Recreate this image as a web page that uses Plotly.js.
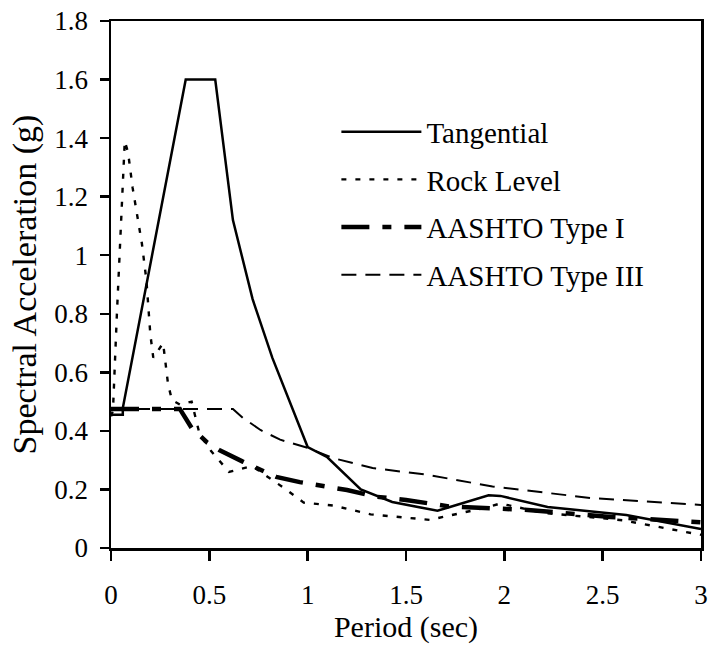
<!DOCTYPE html>
<html>
<head>
<meta charset="utf-8">
<script src="https://cdn.plot.ly/plotly-3.0.1.min.js"></script>
<style>html,body{margin:0;padding:0;background:#fff;}#chart{width:719px;height:645px;}</style>
</head>
<body>
<div id="chart"></div>
<script>
// Period (sec) and spectral acceleration (g)
const tangentialX = [0, 0.06, 0.06, 0.38, 0.53, 0.62, 0.72, 0.82, 1.0, 1.1, 1.27, 1.43, 1.66, 1.92, 1.98, 2.22, 2.62, 3.0];
const tangentialY = [0.455, 0.455, 0.478, 1.6, 1.6, 1.12, 0.85, 0.65, 0.345, 0.31, 0.2, 0.157, 0.127, 0.18, 0.178, 0.14, 0.113, 0.065];

const rockX = [0, 0.01, 0.03, 0.055, 0.07, 0.087, 0.11, 0.157, 0.18, 0.2, 0.215, 0.265, 0.29, 0.31, 0.35, 0.41, 0.45, 0.51, 0.6, 0.72, 0.77, 0.88, 0.98, 1.13, 1.32, 1.62, 1.9, 1.98, 2.2, 2.6, 3.0];
const rockY = [0.45, 0.47, 0.8, 1.2, 1.39, 1.35, 1.23, 1.04, 0.915, 0.73, 0.65, 0.70, 0.56, 0.505, 0.49, 0.50, 0.39, 0.33, 0.26, 0.28, 0.255, 0.205, 0.155, 0.145, 0.115, 0.096, 0.137, 0.152, 0.12, 0.095, 0.045];

const type1X = [0, 0.35, 0.41, 0.49, 0.55, 0.67, 0.84, 0.96, 1.2, 1.35, 1.5, 1.72, 2.12, 2.54, 3.0];
const type1Y = [0.475, 0.475, 0.41, 0.36, 0.335, 0.295, 0.243, 0.225, 0.198, 0.175, 0.164, 0.142, 0.13, 0.106, 0.088];

const type3X = [0, 0.62, 0.67, 0.76, 0.86, 1.0, 1.13, 1.33, 1.61, 1.94, 2.45, 3.0];
const type3Y = [0.475, 0.475, 0.445, 0.403, 0.37, 0.342, 0.307, 0.273, 0.25, 0.21, 0.17, 0.147];

const seriesNames = ["Tangential", "Rock Level", "AASHTO Type I", "AASHTO Type III"];
const xTitle = "Period (sec)";
const yTitle = "Spectral Acceleration (g)";

const FONT = "Liberation Serif";

const traces = [
  {x: tangentialX, y: tangentialY, name: seriesNames[0], legendgroup: "a",
   mode: "lines", line: {color: "#000", width: 2.5}},
  {x: rockX, y: rockY, name: seriesNames[1], legendgroup: "b",
   mode: "lines", line: {color: "#000", width: 2.4, dash: "5px,9px"}},
  {x: type1X, y: type1Y, name: seriesNames[2], legendgroup: "c",
   mode: "lines", line: {color: "#000", width: 4.5, dash: "28px,13px,9px,13px"}},
  {x: type3X, y: type3Y, name: seriesNames[3], legendgroup: "d",
   mode: "lines", line: {color: "#000", width: 2, dash: "15px,9px"}}
].map(t => Object.assign(t, {cliponaxis: false}));

const layout = {
  width: 719, height: 645,
  margin: {l: 111, r: 18, t: 21, b: 97},
  paper_bgcolor: "#fff", plot_bgcolor: "#fff",
  font: {family: FONT, color: "#000", size: 27},
  showlegend: true,
  legend: {
    x: 0.382, xanchor: "left", y: 0.838, yanchor: "top",
    font: {family: FONT, size: 29, color: "#000"},
    bgcolor: "rgba(0,0,0,0)", itemwidth: 80,
    traceorder: "grouped", tracegroupgap: 7
  },
  xaxis: {
    range: [0, 3], dtick: 0.5, tick0: 0,
    showgrid: false, zeroline: false,
    showline: true, mirror: true, linecolor: "#000", linewidth: 2.5,
    ticks: "outside", ticklen: 10, tickwidth: 2.5, tickcolor: "#000",
    ticklabelstandoff: 11,
    tickfont: {family: FONT, size: 27},
    title: {text: xTitle, font: {family: FONT, size: 30}, standoff: 1}
  },
  yaxis: {
    range: [0, 1.8], dtick: 0.2, tick0: 0,
    showgrid: false, zeroline: false,
    showline: true, mirror: true, linecolor: "#000", linewidth: 2.5,
    ticks: "outside", ticklen: 9, tickwidth: 2.5, tickcolor: "#000",
    ticklabelstandoff: 6,
    tickfont: {family: FONT, size: 27},
    title: {text: yTitle, font: {family: FONT, size: 34}, standoff: 8}
  },
  xaxis2: {
    overlaying: "x", anchor: "y", side: "bottom",
    range: [0, 3], dtick: 0.5, tick0: 0,
    showgrid: false, zeroline: false, showline: false,
    ticks: "inside", ticklen: 10, tickwidth: 2.5, tickcolor: "#000",
    showticklabels: false
  },
  yaxis2: {
    overlaying: "y", anchor: "x", side: "left",
    range: [0, 1.8], dtick: 0.2, tick0: 0,
    showgrid: false, zeroline: false, showline: false,
    ticks: "inside", ticklen: 9, tickwidth: 2.5, tickcolor: "#000",
    showticklabels: false
  }
};

Plotly.newPlot("chart", traces, layout, {staticPlot: true, displayModeBar: false});
</script>
</body>
</html>
